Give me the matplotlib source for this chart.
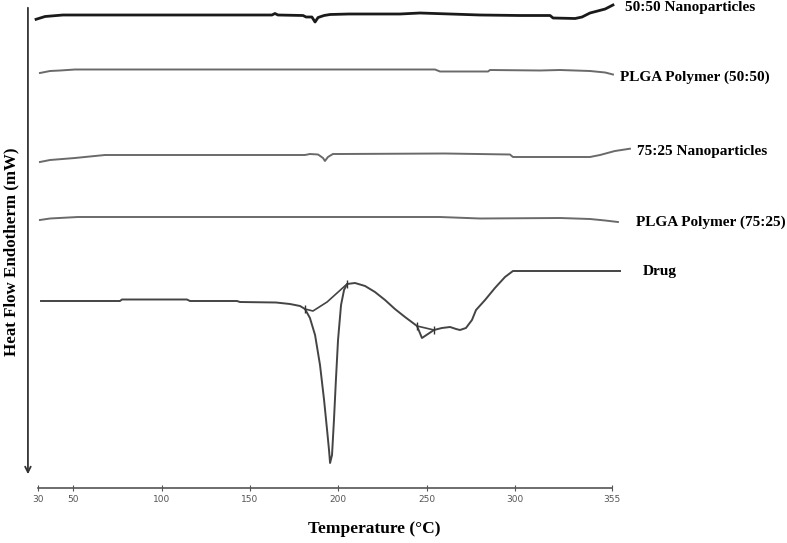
import matplotlib
matplotlib.use("Agg")
import matplotlib.pyplot as plt

##### Data #####
# temperature in degC, heat flow in arbitrary offset units (larger = further down = endotherm)
np5050_T = [28.9, 34.0, 44.1, 93.4, 162.4, 164.1, 165.8, 180.0, 181.7, 185.0, 186.8, 188.5,
            191.9, 195.3, 206.0, 234.9, 246.2, 263.2, 280.1, 302.8, 319.8, 321.5, 334.0,
            337.9, 342.4, 351.0, 355.4]
np5050_hf = [19.3, 16.5, 15.0, 15.0, 15.0, 13.5, 15.0, 15.5, 17.0, 17.0, 22.0, 17.5,
             15.5, 14.5, 14.0, 14.0, 13.0, 14.0, 15.0, 15.5, 15.5, 18.0, 18.5,
             17.0, 13.0, 9.0, 5.0]

plga5050_T = [31.1, 36.8, 42.5, 50.9, 121.7, 254.7, 257.5, 284.7, 285.8, 314.1, 325.4,
              342.4, 351.0, 355.4]
plga5050_hf = [73.0, 71.0, 70.5, 69.5, 69.5, 69.5, 71.5, 71.5, 70.0, 70.5, 70.0,
               71.0, 72.5, 74.5]

np7525_T = [31.1, 36.8, 50.9, 67.9, 121.7, 181.1, 183.9, 188.5, 191.3, 192.4, 194.1,
            196.9, 200.9, 260.3, 297.1, 298.8, 342.4, 348.1, 356.5, 365.0]
np7525_hf = [162.0, 160.0, 158.0, 155.0, 155.0, 155.0, 154.0, 154.5, 158.0, 161.0, 157.0,
             154.0, 154.0, 153.5, 154.5, 157.0, 157.0, 155.0, 151.0, 148.7]

plga7525_T = [31.1, 36.8, 52.6, 121.7, 257.5, 280.1, 325.4, 342.4, 351.0, 358.2]
plga7525_hf = [220.0, 218.5, 217.0, 217.0, 217.0, 218.5, 218.0, 219.0, 220.5, 222.0]

drug_T = [31.7, 76.4, 77.5, 114.3, 116.0, 142.6, 144.3, 164.7, 172.6, 178.3, 181.1,
          183.9, 186.8, 189.6, 191.9, 193.6, 194.7, 195.3, 196.4, 197.5, 198.6, 199.8,
          201.5, 203.2, 204.9, 209.4, 215.1, 220.7, 226.4, 232.0, 237.7, 244.5, 247.3,
          254.1, 258.6, 263.2, 266.6, 268.8, 272.2, 275.6, 277.9, 283.0, 288.6, 294.3,
          298.8, 319.8, 359.4]
drug_hf = [301, 301, 299.5, 299.5, 301, 301, 302, 302.5, 304, 306, 309,
           318, 335, 365, 400, 430, 450, 463, 455, 420, 380, 340,
           305, 290, 284, 283, 286, 292, 300, 309, 317, 326, 338,
           330, 328, 327, 329, 330, 328, 320, 310, 300, 288, 277,
           271, 271, 271]

# integration baselines drawn under the drug peaks
base1_T = [181.1, 185.6, 193.6, 204.9]
base1_hf = [309, 311, 302, 284]
base2_T = [244.5, 254.1]
base2_hf = [326, 330]

labels = ["50:50 Nanoparticles", "PLGA Polymer (50:50)", "75:25 Nanoparticles",
          "PLGA Polymer (75:25)", "Drug"]
label_T = [362.2, 359.4, 369.0, 368.4, 372.4]
label_hf = [8, 77, 151, 222, 272]

ticks = [30, 50, 100, 150, 200, 250, 300, 355]

##### Plot #####
fig = plt.figure(figsize=(7.87, 5.43), dpi=100)
ax = fig.add_axes([0, 0, 1, 1])
ax.set_xlim(8.49, 453.9)
ax.set_ylim(543, 0)

ax.plot(np5050_T, np5050_hf, color="#1a1a1a", lw=2.0)
ax.plot(plga5050_T, plga5050_hf, color="#6a6a6a", lw=1.4)
ax.plot(np7525_T, np7525_hf, color="#6a6a6a", lw=1.4)
ax.plot(plga7525_T, plga7525_hf, color="#6a6a6a", lw=1.4)
ax.plot(drug_T, drug_hf, color="#444444", lw=1.4)
ax.plot(base1_T, base1_hf, color="#444444", lw=1.2)
ax.plot(base2_T, base2_hf, color="#444444", lw=1.2)
ax.plot([181.1, 204.9, 244.5, 254.1], [309, 284, 326, 330], ls="none",
        marker="|", ms=6, mew=1, color="#333333")

for txt, t, h in zip(labels, label_T, label_hf):
    ax.text(t, h, txt, fontsize=11, fontweight="bold", family="Liberation Serif",
            va="center", ha="left")

# downward arrow = endotherm direction
ax.annotate("", xy=(24.3, 477), xytext=(24.3, 5),
            arrowprops=dict(arrowstyle="->", color="#333333", lw=1.3))

for s in ["top", "right", "left"]:
    ax.spines[s].set_visible(False)
ax.spines["bottom"].set_position(("data", 488))
ax.spines["bottom"].set_bounds(30, 355)
ax.spines["bottom"].set_color("#555555")
ax.spines["bottom"].set_linewidth(1.2)
ax.set_xticks(ticks)
ax.set_xticklabels([str(t) for t in ticks])
ax.tick_params(axis="x", direction="inout", length=4, color="#555555",
               labelsize=6.5, labelcolor="#555555", pad=3)
ax.set_yticks([])

fig.text(374 / 787, 1 - 529 / 543, "Temperature (°C)", fontsize=12.5, fontweight="bold",
         family="Liberation Serif", ha="center", va="center")
fig.text(11 / 787, 1 - 252 / 543, "Heat Flow Endotherm (mW)", fontsize=12.2,
         fontweight="bold", family="Liberation Serif", rotation=90, ha="center", va="center")

fig.savefig("out.png", dpi=100)
